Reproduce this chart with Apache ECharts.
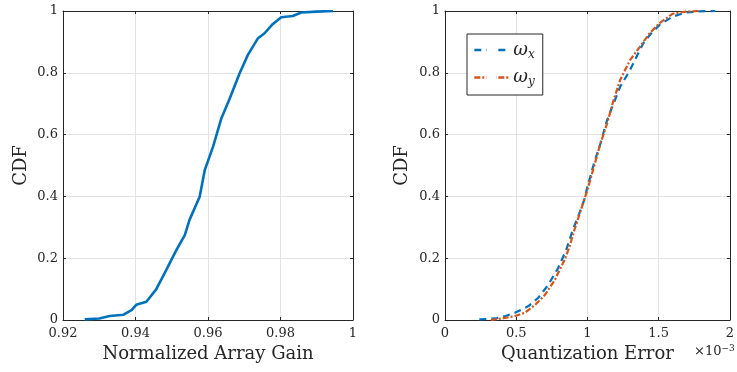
<!DOCTYPE html>
<html>
<head>
<meta charset="utf-8">
<script src="https://cdn.jsdelivr.net/npm/echarts@6/dist/echarts.min.js"></script>
<style>
  html, body { margin: 0; padding: 0; background: #fff; }
  #main { width: 737px; height: 372px; }
</style>
</head>
<body>
<div id="main"></div>
<script>
// left panel: normalized array gain CDF
var gainX = [0.926, 0.930, 0.9329, 0.9367, 0.9389, 0.9402, 0.943, 0.9457, 0.9485, 0.9513, 0.9536, 0.9549,
  0.9577, 0.9591, 0.9614, 0.9637, 0.966, 0.9687, 0.971, 0.9738, 0.9756, 0.9779, 0.9802, 0.9834, 0.9857, 0.9899, 0.9945];
var gainCdf = [0.002, 0.005, 0.013, 0.017, 0.032, 0.049, 0.059, 0.099, 0.162, 0.227, 0.275, 0.324,
  0.399, 0.485, 0.561, 0.653, 0.717, 0.798, 0.858, 0.912, 0.928, 0.958, 0.980, 0.984, 0.995, 0.998, 1.0];

// right panel: quantization error (x1e-3)
var errX = [0.241, 0.356, 0.425, 0.494, 0.586, 0.655, 0.724, 0.793, 0.851, 0.897, 0.943, 0.977, 1.0,
  1.046, 1.092, 1.138, 1.184, 1.23, 1.299, 1.345, 1.391, 1.448, 1.506, 1.598, 1.69, 1.782, 1.897];
var errXCdf = [0.002, 0.005, 0.013, 0.024, 0.045, 0.072, 0.113, 0.167, 0.227, 0.291, 0.345, 0.388, 0.431,
  0.507, 0.572, 0.647, 0.701, 0.755, 0.809, 0.852, 0.895, 0.928, 0.955, 0.982, 0.995, 0.999, 1.0];
var errY = [0.322, 0.402, 0.494, 0.563, 0.632, 0.701, 0.770, 0.839, 0.874, 0.908, 0.954, 1.0,
  1.046, 1.092, 1.138, 1.184, 1.23, 1.299, 1.368, 1.437, 1.506, 1.598, 1.69, 1.782];
var errYCdf = [0.0, 0.005, 0.013, 0.024, 0.049, 0.081, 0.129, 0.194, 0.237, 0.291, 0.356, 0.421,
  0.496, 0.572, 0.636, 0.712, 0.777, 0.841, 0.884, 0.928, 0.961, 0.991, 0.998, 1.0];

function pairs(xs, ys) {
  return xs.map(function (x, i) { return [x, ys[i]]; });
}

var serif = "DejaVu Serif";
var dark = "#262626";
var nameStyle = { color: dark, fontFamily: serif, fontSize: 18 };

function baseAxis(gridIndex, extra) {
  var ax = {
    gridIndex: gridIndex,
    type: "value",
    axisLine: { show: true, onZero: false, lineStyle: { color: dark, width: 1 } },
    axisTick: { show: true, inside: true, length: 3, lineStyle: { color: dark } },
    axisLabel: { color: dark, fontFamily: serif, fontSize: 13 },
    splitLine: { show: false }
  };
  return Object.assign(ax, extra);
}

var myChart = echarts.init(document.getElementById("main"));

var option = {
  animation: false,
  grid: [
    { left: 63, top: 11, width: 290, height: 309 },
    { left: 445, top: 11, width: 290, height: 309 }
  ],
  legend: {
    data: ["wx", "wy"],
    left: 467, top: 34,
    orient: "vertical",
    itemWidth: 34, itemHeight: 12, itemGap: 8,
    padding: [7, 8, 7, 6],
    borderColor: dark, borderWidth: 1, backgroundColor: "#fff",
    lineStyle: { width: 2.6 },
    formatter: function (name) {
      return name === "wx" ? "{w|ω}{s|x}" : "{w|ω}{s|y}";
    },
    textStyle: {
      rich: {
        w: { fontFamily: serif, fontStyle: "italic", fontSize: 18, color: dark },
        s: { fontFamily: serif, fontStyle: "italic", fontSize: 12, color: dark, verticalAlign: "bottom", padding: [9, 0, 0, 0] }
      }
    }
  },
  xAxis: [
    baseAxis(0, { min: 0.92, max: 1, interval: 0.02, position: "bottom",
      name: "Normalized Array Gain", nameLocation: "middle", nameGap: 24, nameTextStyle: nameStyle,
      axisLabel: { color: dark, fontFamily: serif, fontSize: 13, margin: 7,
        formatter: function (v) { return v === 1 ? "1" : v.toFixed(2); } },
      splitLine: { show: true, lineStyle: { color: "#e3e3e3" } } }),
    baseAxis(0, { min: 0.92, max: 1, interval: 0.02, position: "top", axisLabel: { show: false } }),
    baseAxis(1, { min: 0, max: 2, interval: 0.5, position: "bottom",
      name: "Quantization Error", nameLocation: "middle", nameGap: 24, nameTextStyle: nameStyle,
      axisLabel: { color: dark, fontFamily: serif, fontSize: 13, margin: 7 },
      splitLine: { show: true, lineStyle: { color: "#e3e3e3" } } }),
    baseAxis(1, { min: 0, max: 2, interval: 0.5, position: "top", axisLabel: { show: false } })
  ],
  yAxis: [
    baseAxis(0, { min: 0, max: 1, interval: 0.2, position: "left",
      name: "CDF", nameLocation: "middle", nameGap: 33, nameTextStyle: nameStyle,
      axisLabel: { color: dark, fontFamily: serif, fontSize: 13, margin: 5 },
      splitLine: { show: true, lineStyle: { color: "#e3e3e3" } } }),
    baseAxis(0, { min: 0, max: 1, interval: 0.2, position: "right", axisLabel: { show: false } }),
    baseAxis(1, { min: 0, max: 1, interval: 0.2, position: "left",
      name: "CDF", nameLocation: "middle", nameGap: 34, nameTextStyle: nameStyle,
      axisLabel: { color: dark, fontFamily: serif, fontSize: 13, margin: 5 },
      splitLine: { show: true, lineStyle: { color: "#e3e3e3" } } }),
    baseAxis(1, { min: 0, max: 1, interval: 0.2, position: "right", axisLabel: { show: false } })
  ],
  graphic: [{
    type: "text", left: 694, top: 344,
    style: {
      text: "{m|×10}{e|−3}",
      rich: {
        m: { fontFamily: serif, fontSize: 13, fill: dark },
        e: { fontFamily: serif, fontSize: 9, fill: dark, verticalAlign: "top", padding: [0, 0, 7, 0] }
      }
    }
  }],
  series: [
    { name: "gain", type: "line", xAxisIndex: 0, yAxisIndex: 0, data: pairs(gainX, gainCdf),
      showSymbol: false, lineStyle: { color: "#0072bd", width: 2.6 }, z: 3 },
    { name: "wx", type: "line", xAxisIndex: 2, yAxisIndex: 2, data: pairs(errX, errXCdf),
      showSymbol: false, itemStyle: { color: "rgba(0,0,0,0)", borderWidth: 0 },
      lineStyle: { color: "#0072bd", width: 2.2, type: [7, 5] }, z: 3 },
    { name: "wy", type: "line", xAxisIndex: 2, yAxisIndex: 2, data: pairs(errY, errYCdf),
      showSymbol: false, itemStyle: { color: "rgba(0,0,0,0)", borderWidth: 0 },
      lineStyle: { color: "#d95319", width: 2.2, type: [6, 2, 2, 2] }, z: 4 }
  ]
};

myChart.setOption(option);
</script>
</body>
</html>
